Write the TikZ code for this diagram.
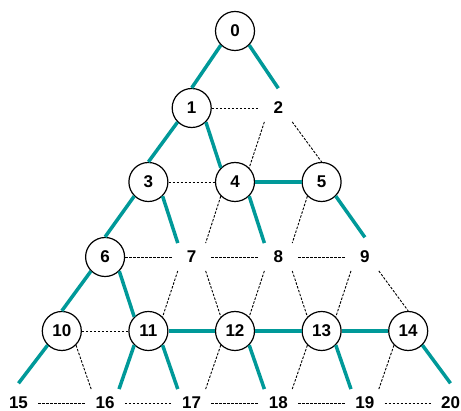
\documentclass[tikz,border=0pt]{standalone}
\usepackage{fontspec}
\setmainfont{Liberation Sans}
\definecolor{tealline}{RGB}{0,153,153}
\begin{document}
\begin{tikzpicture}[x=1pt,y=-1pt,
  vtx/.style={circle,minimum size=39pt,inner sep=0pt,font=\fontsize{17}{20}\selectfont\bfseries},
  circ/.style={vtx,draw,line width=1.2pt},
  sel/.style={draw=tealline,line width=3.5pt},
  opt/.style={draw=black,line width=0.9pt,dash pattern=on 2.5pt off 1.5pt}]
\useasboundingbox (0,0) rectangle (461,411);
% nodes
\node[circ] (n0) at (235,31) {0};
\node[circ] (n1) at (191.7,108) {1};
\node[vtx]  (n2) at (278.3,108) {2};
\node[circ] (n3) at (148.4,182) {3};
\node[circ] (n4) at (235,182) {4};
\node[circ] (n5) at (321.6,182) {5};
\node[circ] (n6) at (105.1,257) {6};
\node[vtx]  (n7) at (191.7,257) {7};
\node[vtx]  (n8) at (278.3,257) {8};
\node[vtx]  (n9) at (364.9,257) {9};
\node[circ] (n10) at (61.8,331) {10};
\node[circ] (n11) at (148.4,331) {11};
\node[circ] (n12) at (235,331) {12};
\node[circ] (n13) at (321.6,331) {13};
\node[circ] (n14) at (408.2,331) {14};
\node[vtx]  (n15) at (18.5,403) {15};
\node[vtx]  (n16) at (105.1,403) {16};
\node[vtx]  (n17) at (191.7,403) {17};
\node[vtx]  (n18) at (278.3,403) {18};
\node[vtx]  (n19) at (364.9,403) {19};
\node[vtx]  (n20) at (450.5,403) {20};
% dashed edges
\foreach \a/\b in {1/2,3/4,6/7,7/8,8/9,10/11,15/16,16/17,17/18,18/19,19/20}
  \draw[opt] (n\a.east) -- (n\b.west);
\foreach \a/\b/\t in {2/4/45,4/7/45,5/8/45,7/11/45,8/12/45,9/13/45,12/17/45,13/18/45,14/19/45}
  \draw[opt] (n\a.-135) -- (n\b.\t);
\foreach \a/\b/\t in {2/5/90,7/12/135,8/13/135,9/14/90,10/16/135}
  \draw[opt] (n\a.-45) -- (n\b.\t);
% teal edges
\foreach \a/\b in {4/5,11/12,12/13,13/14}
  \draw[sel] (n\a.east) -- (n\b.west);
\foreach \a/\b/\t in {0/1/90,1/3/90,3/6/90,6/10/90,10/15/90,11/16/45}
  \draw[sel] (n\a.-135) -- (n\b.\t);
\foreach \a/\b/\t in {0/2/90,1/4/135,3/7/135,4/8/135,5/9/90,6/11/135,11/17/135,12/18/135,13/19/135,14/20/90}
  \draw[sel] (n\a.-45) -- (n\b.\t);
\end{tikzpicture}
\end{document}
